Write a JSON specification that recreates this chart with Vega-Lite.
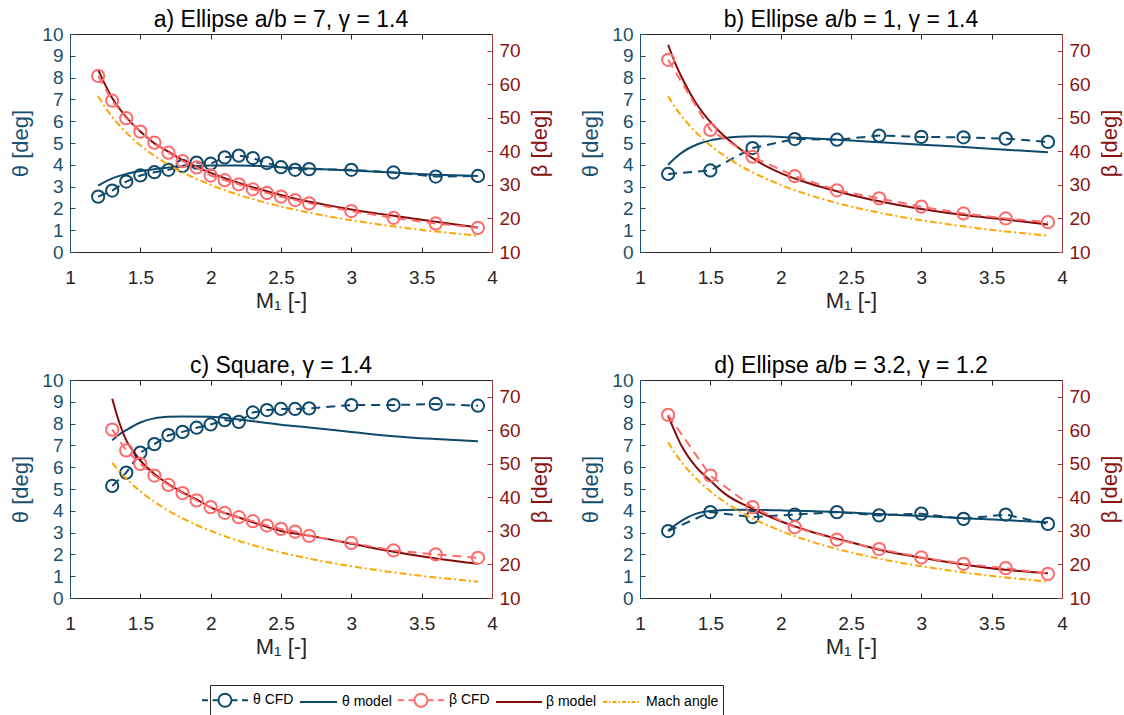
{
"$schema": "https://vega.github.io/schema/vega-lite/v6.json",
"autosize": {"type": "none"},
"padding": {"left": 70, "top": 34, "right": 1054, "bottom": 681},
"background": "white",
"config": {
 "font": "Liberation Sans",
 "view": {"stroke": "#262626", "strokeWidth": 1},
 "axis": {"grid": false, "labelFontSize": 19, "titleFontSize": 22, "titleFontWeight": "normal", "tickWidth": 1, "domainWidth": 1, "labelOverlap": false, "labelFlush": false},
 "title": {"fontSize": 23, "fontWeight": "normal", "color": "#000000", "offset": -7}
},
"data": {"values": [
{"p":"m","s":"Mach angle","M":1.2,"v":56.44},{"p":"m","s":"Mach angle","M":1.25,"v":53.13},{"p":"m","s":"Mach angle","M":1.3,"v":50.28},{"p":"m","s":"Mach angle","M":1.35,"v":47.8},{"p":"m","s":"Mach angle","M":1.4,"v":45.58},{"p":"m","s":"Mach angle","M":1.5,"v":41.81},{"p":"m","s":"Mach angle","M":1.6,"v":38.68},{"p":"m","s":"Mach angle","M":1.7,"v":36.03},{"p":"m","s":"Mach angle","M":1.8,"v":33.75},{"p":"m","s":"Mach angle","M":1.9,"v":31.76},{"p":"m","s":"Mach angle","M":2.0,"v":30.0},{"p":"m","s":"Mach angle","M":2.2,"v":27.04},{"p":"m","s":"Mach angle","M":2.4,"v":24.62},{"p":"m","s":"Mach angle","M":2.6,"v":22.62},{"p":"m","s":"Mach angle","M":2.8,"v":20.92},{"p":"m","s":"Mach angle","M":3.0,"v":19.47},{"p":"m","s":"Mach angle","M":3.2,"v":18.21},{"p":"m","s":"Mach angle","M":3.4,"v":17.1},{"p":"m","s":"Mach angle","M":3.6,"v":16.13},{"p":"m","s":"Mach angle","M":3.9,"v":14.86},

{"p":"a","s":"θ CFD","M":1.2,"v":2.54},{"p":"a","s":"θ CFD","M":1.3,"v":2.82},{"p":"a","s":"θ CFD","M":1.4,"v":3.23},{"p":"a","s":"θ CFD","M":1.5,"v":3.51},{"p":"a","s":"θ CFD","M":1.6,"v":3.66},{"p":"a","s":"θ CFD","M":1.7,"v":3.77},{"p":"a","s":"θ CFD","M":1.8,"v":3.95},{"p":"a","s":"θ CFD","M":1.9,"v":4.1},{"p":"a","s":"θ CFD","M":2.0,"v":4.05},{"p":"a","s":"θ CFD","M":2.1,"v":4.34},{"p":"a","s":"θ CFD","M":2.2,"v":4.42},{"p":"a","s":"θ CFD","M":2.3,"v":4.31},{"p":"a","s":"θ CFD","M":2.4,"v":4.08},{"p":"a","s":"θ CFD","M":2.5,"v":3.89},{"p":"a","s":"θ CFD","M":2.6,"v":3.77},{"p":"a","s":"θ CFD","M":2.7,"v":3.8},{"p":"a","s":"θ CFD","M":3.0,"v":3.77},{"p":"a","s":"θ CFD","M":3.3,"v":3.65},{"p":"a","s":"θ CFD","M":3.6,"v":3.46},{"p":"a","s":"θ CFD","M":3.9,"v":3.49},
{"p":"a","s":"θ model","M":1.2,"v":3.05},{"p":"a","s":"θ model","M":1.3,"v":3.38},{"p":"a","s":"θ model","M":1.4,"v":3.58},{"p":"a","s":"θ model","M":1.5,"v":3.72},{"p":"a","s":"θ model","M":1.6,"v":3.8},{"p":"a","s":"θ model","M":1.7,"v":3.88},{"p":"a","s":"θ model","M":1.8,"v":3.92},{"p":"a","s":"θ model","M":2.0,"v":3.97},{"p":"a","s":"θ model","M":2.2,"v":3.97},{"p":"a","s":"θ model","M":2.5,"v":3.89},{"p":"a","s":"θ model","M":2.8,"v":3.8},{"p":"a","s":"θ model","M":3.0,"v":3.74},{"p":"a","s":"θ model","M":3.3,"v":3.65},{"p":"a","s":"θ model","M":3.6,"v":3.54},{"p":"a","s":"θ model","M":3.9,"v":3.49},
{"p":"a","s":"β CFD","M":1.2,"v":62.5},{"p":"a","s":"β CFD","M":1.3,"v":55.1},{"p":"a","s":"β CFD","M":1.4,"v":49.9},{"p":"a","s":"β CFD","M":1.5,"v":45.9},{"p":"a","s":"β CFD","M":1.6,"v":42.6},{"p":"a","s":"β CFD","M":1.7,"v":39.6},{"p":"a","s":"β CFD","M":1.8,"v":37.1},{"p":"a","s":"β CFD","M":1.9,"v":35.2},{"p":"a","s":"β CFD","M":2.0,"v":32.8},{"p":"a","s":"β CFD","M":2.1,"v":31.4},{"p":"a","s":"β CFD","M":2.2,"v":30.2},{"p":"a","s":"β CFD","M":2.3,"v":28.7},{"p":"a","s":"β CFD","M":2.4,"v":27.6},{"p":"a","s":"β CFD","M":2.5,"v":26.5},{"p":"a","s":"β CFD","M":2.6,"v":25.5},{"p":"a","s":"β CFD","M":2.7,"v":24.5},{"p":"a","s":"β CFD","M":3.0,"v":22.2},{"p":"a","s":"β CFD","M":3.3,"v":20.2},{"p":"a","s":"β CFD","M":3.6,"v":18.5},{"p":"a","s":"β CFD","M":3.9,"v":17.2},
{"p":"a","s":"β model","M":1.2,"v":64.3},{"p":"a","s":"β model","M":1.3,"v":55.9},{"p":"a","s":"β model","M":1.4,"v":50.2},{"p":"a","s":"β model","M":1.5,"v":45.9},{"p":"a","s":"β model","M":1.6,"v":42.4},{"p":"a","s":"β model","M":1.7,"v":39.9},{"p":"a","s":"β model","M":1.8,"v":37.4},{"p":"a","s":"β model","M":1.9,"v":35.4},{"p":"a","s":"β model","M":2.0,"v":33.6},{"p":"a","s":"β model","M":2.2,"v":30.6},{"p":"a","s":"β model","M":2.4,"v":28.1},{"p":"a","s":"β model","M":2.6,"v":25.9},{"p":"a","s":"β model","M":2.8,"v":24.2},{"p":"a","s":"β model","M":3.0,"v":22.7},{"p":"a","s":"β model","M":3.3,"v":20.8},{"p":"a","s":"β model","M":3.6,"v":19.0},{"p":"a","s":"β model","M":3.9,"v":17.3},

{"p":"b","s":"θ CFD","M":1.2,"v":3.58},{"p":"b","s":"θ CFD","M":1.5,"v":3.74},{"p":"b","s":"θ CFD","M":1.8,"v":4.77},{"p":"b","s":"θ CFD","M":2.1,"v":5.18},{"p":"b","s":"θ CFD","M":2.4,"v":5.15},{"p":"b","s":"θ CFD","M":2.7,"v":5.34},{"p":"b","s":"θ CFD","M":3.0,"v":5.28},{"p":"b","s":"θ CFD","M":3.3,"v":5.26},{"p":"b","s":"θ CFD","M":3.6,"v":5.2},{"p":"b","s":"θ CFD","M":3.9,"v":5.05},
{"p":"b","s":"θ model","M":1.2,"v":4.0},{"p":"b","s":"θ model","M":1.25,"v":4.31},{"p":"b","s":"θ model","M":1.3,"v":4.57},{"p":"b","s":"θ model","M":1.4,"v":4.92},{"p":"b","s":"θ model","M":1.5,"v":5.12},{"p":"b","s":"θ model","M":1.6,"v":5.23},{"p":"b","s":"θ model","M":1.7,"v":5.29},{"p":"b","s":"θ model","M":1.8,"v":5.31},{"p":"b","s":"θ model","M":2.0,"v":5.28},{"p":"b","s":"θ model","M":2.2,"v":5.22},{"p":"b","s":"θ model","M":2.5,"v":5.11},{"p":"b","s":"θ model","M":2.8,"v":5.0},{"p":"b","s":"θ model","M":3.0,"v":4.92},{"p":"b","s":"θ model","M":3.3,"v":4.82},{"p":"b","s":"θ model","M":3.6,"v":4.69},{"p":"b","s":"θ model","M":3.9,"v":4.58},
{"p":"b","s":"β CFD","M":1.2,"v":67.3},{"p":"b","s":"β CFD","M":1.5,"v":46.4},{"p":"b","s":"β CFD","M":1.8,"v":38.4},{"p":"b","s":"β CFD","M":2.1,"v":32.6},{"p":"b","s":"β CFD","M":2.4,"v":28.4},{"p":"b","s":"β CFD","M":2.7,"v":26.0},{"p":"b","s":"β CFD","M":3.0,"v":23.5},{"p":"b","s":"β CFD","M":3.3,"v":21.5},{"p":"b","s":"β CFD","M":3.6,"v":20.0},{"p":"b","s":"β CFD","M":3.9,"v":18.9},
{"p":"b","s":"β model","M":1.2,"v":71.8},{"p":"b","s":"β model","M":1.25,"v":66.3},{"p":"b","s":"β model","M":1.3,"v":61.8},{"p":"b","s":"β model","M":1.35,"v":57.8},{"p":"b","s":"β model","M":1.4,"v":54.3},{"p":"b","s":"β model","M":1.5,"v":48.8},{"p":"b","s":"β model","M":1.6,"v":44.5},{"p":"b","s":"β model","M":1.7,"v":41.1},{"p":"b","s":"β model","M":1.8,"v":38.0},{"p":"b","s":"β model","M":1.9,"v":35.5},{"p":"b","s":"β model","M":2.0,"v":33.5},{"p":"b","s":"β model","M":2.2,"v":30.5},{"p":"b","s":"β model","M":2.4,"v":28.1},{"p":"b","s":"β model","M":2.6,"v":26.0},{"p":"b","s":"β model","M":2.8,"v":24.3},{"p":"b","s":"β model","M":3.0,"v":22.8},{"p":"b","s":"β model","M":3.3,"v":21.0},{"p":"b","s":"β model","M":3.6,"v":19.7},{"p":"b","s":"β model","M":3.9,"v":18.2},

{"p":"c","s":"θ CFD","M":1.3,"v":5.14},{"p":"c","s":"θ CFD","M":1.4,"v":5.75},{"p":"c","s":"θ CFD","M":1.5,"v":6.67},{"p":"c","s":"θ CFD","M":1.6,"v":7.06},{"p":"c","s":"θ CFD","M":1.7,"v":7.47},{"p":"c","s":"θ CFD","M":1.8,"v":7.62},{"p":"c","s":"θ CFD","M":1.9,"v":7.81},{"p":"c","s":"θ CFD","M":2.0,"v":7.96},{"p":"c","s":"θ CFD","M":2.1,"v":8.16},{"p":"c","s":"θ CFD","M":2.2,"v":8.08},{"p":"c","s":"θ CFD","M":2.3,"v":8.51},{"p":"c","s":"θ CFD","M":2.4,"v":8.62},{"p":"c","s":"θ CFD","M":2.5,"v":8.67},{"p":"c","s":"θ CFD","M":2.6,"v":8.67},{"p":"c","s":"θ CFD","M":2.7,"v":8.7},{"p":"c","s":"θ CFD","M":3.0,"v":8.85},{"p":"c","s":"θ CFD","M":3.3,"v":8.85},{"p":"c","s":"θ CFD","M":3.6,"v":8.9},{"p":"c","s":"θ CFD","M":3.9,"v":8.82},
{"p":"c","s":"θ model","M":1.3,"v":7.24},{"p":"c","s":"θ model","M":1.35,"v":7.5},{"p":"c","s":"θ model","M":1.4,"v":7.7},{"p":"c","s":"θ model","M":1.5,"v":8.05},{"p":"c","s":"θ model","M":1.6,"v":8.24},{"p":"c","s":"θ model","M":1.7,"v":8.31},{"p":"c","s":"θ model","M":1.8,"v":8.33},{"p":"c","s":"θ model","M":2.0,"v":8.31},{"p":"c","s":"θ model","M":2.2,"v":8.19},{"p":"c","s":"θ model","M":2.4,"v":8.03},{"p":"c","s":"θ model","M":2.5,"v":7.95},{"p":"c","s":"θ model","M":2.7,"v":7.82},{"p":"c","s":"θ model","M":3.0,"v":7.62},{"p":"c","s":"θ model","M":3.3,"v":7.42},{"p":"c","s":"θ model","M":3.6,"v":7.29},{"p":"c","s":"θ model","M":3.9,"v":7.19},
{"p":"c","s":"β CFD","M":1.3,"v":60.2},{"p":"c","s":"β CFD","M":1.4,"v":54.0},{"p":"c","s":"β CFD","M":1.5,"v":50.0},{"p":"c","s":"β CFD","M":1.6,"v":46.5},{"p":"c","s":"β CFD","M":1.7,"v":43.7},{"p":"c","s":"β CFD","M":1.8,"v":41.3},{"p":"c","s":"β CFD","M":1.9,"v":39.1},{"p":"c","s":"β CFD","M":2.0,"v":37.1},{"p":"c","s":"β CFD","M":2.1,"v":35.4},{"p":"c","s":"β CFD","M":2.2,"v":34.1},{"p":"c","s":"β CFD","M":2.3,"v":32.9},{"p":"c","s":"β CFD","M":2.4,"v":31.6},{"p":"c","s":"β CFD","M":2.5,"v":30.6},{"p":"c","s":"β CFD","M":2.6,"v":29.8},{"p":"c","s":"β CFD","M":2.7,"v":28.5},{"p":"c","s":"β CFD","M":3.0,"v":26.4},{"p":"c","s":"β CFD","M":3.3,"v":24.2},{"p":"c","s":"β CFD","M":3.6,"v":23.0},{"p":"c","s":"β CFD","M":3.9,"v":22.0},
{"p":"c","s":"β model","M":1.3,"v":69.4},{"p":"c","s":"β model","M":1.31,"v":68.0},{"p":"c","s":"β model","M":1.33,"v":65.0},{"p":"c","s":"β model","M":1.35,"v":62.4},{"p":"c","s":"β model","M":1.4,"v":57.0},{"p":"c","s":"β model","M":1.45,"v":53.8},{"p":"c","s":"β model","M":1.5,"v":51.0},{"p":"c","s":"β model","M":1.6,"v":47.0},{"p":"c","s":"β model","M":1.7,"v":44.0},{"p":"c","s":"β model","M":1.8,"v":41.5},{"p":"c","s":"β model","M":1.9,"v":39.4},{"p":"c","s":"β model","M":2.0,"v":37.0},{"p":"c","s":"β model","M":2.2,"v":34.0},{"p":"c","s":"β model","M":2.4,"v":31.2},{"p":"c","s":"β model","M":2.5,"v":30.0},{"p":"c","s":"β model","M":2.7,"v":28.6},{"p":"c","s":"β model","M":3.0,"v":26.2},{"p":"c","s":"β model","M":3.3,"v":23.8},{"p":"c","s":"β model","M":3.6,"v":21.8},{"p":"c","s":"β model","M":3.9,"v":20.2},

{"p":"d","s":"θ CFD","M":1.2,"v":3.07},{"p":"d","s":"θ CFD","M":1.5,"v":3.94},{"p":"d","s":"θ CFD","M":1.8,"v":3.71},{"p":"d","s":"θ CFD","M":2.1,"v":3.83},{"p":"d","s":"θ CFD","M":2.4,"v":3.94},{"p":"d","s":"θ CFD","M":2.7,"v":3.79},{"p":"d","s":"θ CFD","M":3.0,"v":3.87},{"p":"d","s":"θ CFD","M":3.3,"v":3.63},{"p":"d","s":"θ CFD","M":3.6,"v":3.83},{"p":"d","s":"θ CFD","M":3.9,"v":3.4},
{"p":"d","s":"θ model","M":1.2,"v":3.1},{"p":"d","s":"θ model","M":1.3,"v":3.56},{"p":"d","s":"θ model","M":1.4,"v":3.87},{"p":"d","s":"θ model","M":1.5,"v":3.99},{"p":"d","s":"θ model","M":1.7,"v":4.05},{"p":"d","s":"θ model","M":2.0,"v":4.02},{"p":"d","s":"θ model","M":2.4,"v":3.95},{"p":"d","s":"θ model","M":2.7,"v":3.85},{"p":"d","s":"θ model","M":3.0,"v":3.76},{"p":"d","s":"θ model","M":3.3,"v":3.66},{"p":"d","s":"θ model","M":3.6,"v":3.57},{"p":"d","s":"θ model","M":3.9,"v":3.48},
{"p":"d","s":"β CFD","M":1.2,"v":64.6},{"p":"d","s":"β CFD","M":1.5,"v":46.5},{"p":"d","s":"β CFD","M":1.8,"v":37.1},{"p":"d","s":"β CFD","M":2.1,"v":31.1},{"p":"d","s":"β CFD","M":2.4,"v":27.4},{"p":"d","s":"β CFD","M":2.7,"v":24.6},{"p":"d","s":"β CFD","M":3.0,"v":22.1},{"p":"d","s":"β CFD","M":3.3,"v":20.2},{"p":"d","s":"β CFD","M":3.6,"v":18.9},{"p":"d","s":"β CFD","M":3.9,"v":17.2},
{"p":"d","s":"β model","M":1.2,"v":64.4},{"p":"d","s":"β model","M":1.3,"v":55.0},{"p":"d","s":"β model","M":1.4,"v":49.0},{"p":"d","s":"β model","M":1.5,"v":45.0},{"p":"d","s":"β model","M":1.6,"v":41.2},{"p":"d","s":"β model","M":1.8,"v":36.6},{"p":"d","s":"β model","M":2.0,"v":32.9},{"p":"d","s":"β model","M":2.2,"v":30.0},{"p":"d","s":"β model","M":2.5,"v":26.6},{"p":"d","s":"β model","M":2.7,"v":24.4},{"p":"d","s":"β model","M":3.0,"v":22.0},{"p":"d","s":"β model","M":3.3,"v":20.0},{"p":"d","s":"β model","M":3.6,"v":18.4},{"p":"d","s":"β model","M":3.9,"v":17.4}
]},
"columns": 2,
"spacing": {"row": 128, "column": 148},
"bounds": "flush",
"concat": [
 {"title": "a) Ellipse a/b = 7, γ = 1.4", "width": 422, "height": 218,
  "resolve": {"scale": {"y": "independent"}, "axis": {"x": "independent"}},
  "layer": [
   {"encoding": {
     "x": {"field": "M", "type": "quantitative", "scale": {"domain": [1, 4], "nice": false, "zero": false}, "axis": {"orient": "bottom", "values": [1, 1.5, 2, 2.5, 3, 3.5, 4], "format": "~g", "title": "M₁ [-]", "tickSize": -5, "labelPadding": 21, "titlePadding": 3, "domainColor": "#262626", "tickColor": "#262626", "labelColor": "#262626", "titleColor": "#262626"}},
     "y": {"field": "v", "type": "quantitative", "scale": {"domain": [0, 10], "nice": false, "zero": false}, "axis": {"orient": "left", "values": [0,1,2,3,4,5,6,7,8,9,10], "title": "θ [deg]", "tickSize": -5, "labelPadding": 12, "titlePadding": 9, "domainColor": "#18506f", "tickColor": "#18506f", "labelColor": "#18506f", "titleColor": "#18506f"}}},
    "layer": [
     {"transform": [{"filter": "datum.p=='a' && datum.s=='θ model'"}], "mark": {"type": "line", "color": "#0e4a6b", "strokeWidth": 2, "interpolate": "monotone"}, "encoding": {}},
     {"transform": [{"filter": "datum.p=='a' && datum.s=='θ CFD'"}], "mark": {"type": "line", "color": "#0e4a6b", "strokeWidth": 2, "strokeDash": [9, 6]}, "encoding": {}},
     {"transform": [{"filter": "datum.p=='a' && datum.s=='θ CFD'"}], "mark": {"type": "point", "shape": "circle", "filled": false, "size": 150, "strokeWidth": 2, "opacity": 1, "color": "#0e4a6b"}},
     {"transform": [{"filter": "datum.p=='legend-only'"}], "mark": {"type": "point", "filled": false, "strokeWidth": 2, "opacity": 1},
      "encoding": {
       "color": {"field": "s", "type": "nominal",
        "scale": {"domain": ["θ CFD", "θ model", "β CFD", "β model", "Mach angle"], "range": ["#0e4a6b", "#0e4a6b", "#ff6b6b", "#850c0c", "#ffa500"]},
        "legend": {"title": null, "orient": "none", "legendX": 140, "legendY": 651, "direction": "horizontal", "symbolSize": 400, "symbolStrokeWidth": 2, "labelFontSize": 14, "labelColor": "#000000", "labelOffset": 17, "columnPadding": 2, "padding": 4, "strokeColor": "#262626", "fillColor": "#ffffff", "labelLimit": 300,
          "encode": {"legend": {"update": {"stroke": {"value": "#262626"}, "strokeWidth": {"value": 1}}}}}},
       "shape": {"field": "s", "type": "nominal",
        "scale": {"domain": ["θ CFD", "θ model", "β CFD", "β model", "Mach angle"], "range": ["M-2.3,0H-1.7M-1.25,0H-0.65M0.65,0H1.25M1.7,0H2.3M-0.65,0A0.65,0.65 0 1 0 0.65,0A0.65,0.65 0 1 0 -0.65,0", "M-1.4,0H2.3", "M-2.3,0H-1.7M-1.25,0H-0.65M0.65,0H1.25M1.7,0H2.3M-0.65,0A0.65,0.65 0 1 0 0.65,0A0.65,0.65 0 1 0 -0.65,0", "M-2.2,0H2.4", "M-1.5,0H-1.1M-0.9,0H-0.75M-0.55,0H-0.15M0.05,0H0.2M0.4,0H0.8M1.0,0H1.15M1.35,0H1.75M1.95,0H2.1"]},
        "legend": {"title": null, "orient": "none", "legendX": 140, "legendY": 651, "direction": "horizontal", "symbolSize": 400, "symbolStrokeWidth": 2, "labelFontSize": 14, "labelColor": "#000000", "labelOffset": 17, "columnPadding": 2, "padding": 4, "strokeColor": "#262626", "fillColor": "#ffffff", "labelLimit": 300,
          "encode": {"legend": {"update": {"stroke": {"value": "#262626"}, "strokeWidth": {"value": 1}}}}}}
      }}
    ]},
   {"encoding": {
     "x": {"field": "M", "type": "quantitative", "axis": {"orient": "top", "values": [1, 1.5, 2, 2.5, 3, 3.5, 4], "labels": false, "title": null, "tickSize": -5, "domainColor": "#262626", "tickColor": "#262626"}},
     "y": {"field": "v", "type": "quantitative", "scale": {"domain": [10, 75], "nice": false, "zero": false}, "axis": {"orient": "right", "values": [10,20,30,40,50,60,70], "title": "β [deg]", "tickSize": -5, "labelPadding": 12, "titlePadding": 9, "titleAngle": 270, "titleBaseline": "top", "domainColor": "#a03a3a", "tickColor": "#a03a3a", "labelColor": "#8b1212", "titleColor": "#8b1212"}}},
    "layer": [
     {"transform": [{"filter": "datum.p=='m'"}], "mark": {"type": "line", "color": "#ffa500", "strokeWidth": 2, "strokeDash": [7, 3, 2, 3], "interpolate": "monotone"}, "encoding": {}},
     {"transform": [{"filter": "datum.p=='a' && datum.s=='β model'"}], "mark": {"type": "line", "color": "#850c0c", "strokeWidth": 2, "interpolate": "monotone"}, "encoding": {}},
     {"transform": [{"filter": "datum.p=='a' && datum.s=='β CFD'"}], "mark": {"type": "line", "color": "#ff6b6b", "strokeWidth": 2, "strokeDash": [9, 6]}, "encoding": {}},
     {"transform": [{"filter": "datum.p=='a' && datum.s=='β CFD'"}], "mark": {"type": "point", "shape": "circle", "filled": false, "size": 150, "strokeWidth": 2, "opacity": 1, "color": "#ff6b6b"}}
    ]}
  ]},
 {"title": "b) Ellipse a/b = 1, γ = 1.4", "width": 422, "height": 218,
  "resolve": {"scale": {"y": "independent"}, "axis": {"x": "independent"}},
  "layer": [
   {"encoding": {
     "x": {"field": "M", "type": "quantitative", "scale": {"domain": [1, 4], "nice": false, "zero": false}, "axis": {"orient": "bottom", "values": [1, 1.5, 2, 2.5, 3, 3.5, 4], "format": "~g", "title": "M₁ [-]", "tickSize": -5, "labelPadding": 21, "titlePadding": 3, "domainColor": "#262626", "tickColor": "#262626", "labelColor": "#262626", "titleColor": "#262626"}},
     "y": {"field": "v", "type": "quantitative", "scale": {"domain": [0, 10], "nice": false, "zero": false}, "axis": {"orient": "left", "values": [0,1,2,3,4,5,6,7,8,9,10], "title": "θ [deg]", "tickSize": -5, "labelPadding": 12, "titlePadding": 9, "domainColor": "#18506f", "tickColor": "#18506f", "labelColor": "#18506f", "titleColor": "#18506f"}}},
    "layer": [
     {"transform": [{"filter": "datum.p=='b' && datum.s=='θ model'"}], "mark": {"type": "line", "color": "#0e4a6b", "strokeWidth": 2, "interpolate": "monotone"}, "encoding": {}},
     {"transform": [{"filter": "datum.p=='b' && datum.s=='θ CFD'"}], "mark": {"type": "line", "color": "#0e4a6b", "strokeWidth": 2, "strokeDash": [9, 6]}, "encoding": {}},
     {"transform": [{"filter": "datum.p=='b' && datum.s=='θ CFD'"}], "mark": {"type": "point", "shape": "circle", "filled": false, "size": 150, "strokeWidth": 2, "opacity": 1, "color": "#0e4a6b"}}
    ]},
   {"encoding": {
     "x": {"field": "M", "type": "quantitative", "axis": {"orient": "top", "values": [1, 1.5, 2, 2.5, 3, 3.5, 4], "labels": false, "title": null, "tickSize": -5, "domainColor": "#262626", "tickColor": "#262626"}},
     "y": {"field": "v", "type": "quantitative", "scale": {"domain": [10, 75], "nice": false, "zero": false}, "axis": {"orient": "right", "values": [10,20,30,40,50,60,70], "title": "β [deg]", "tickSize": -5, "labelPadding": 12, "titlePadding": 9, "titleAngle": 270, "titleBaseline": "top", "domainColor": "#a03a3a", "tickColor": "#a03a3a", "labelColor": "#8b1212", "titleColor": "#8b1212"}}},
    "layer": [
     {"transform": [{"filter": "datum.p=='m'"}], "mark": {"type": "line", "color": "#ffa500", "strokeWidth": 2, "strokeDash": [7, 3, 2, 3], "interpolate": "monotone"}, "encoding": {}},
     {"transform": [{"filter": "datum.p=='b' && datum.s=='β model'"}], "mark": {"type": "line", "color": "#850c0c", "strokeWidth": 2, "interpolate": "monotone"}, "encoding": {}},
     {"transform": [{"filter": "datum.p=='b' && datum.s=='β CFD'"}], "mark": {"type": "line", "color": "#ff6b6b", "strokeWidth": 2, "strokeDash": [9, 6]}, "encoding": {}},
     {"transform": [{"filter": "datum.p=='b' && datum.s=='β CFD'"}], "mark": {"type": "point", "shape": "circle", "filled": false, "size": 150, "strokeWidth": 2, "opacity": 1, "color": "#ff6b6b"}}
    ]}
  ]},
 {"title": "c) Square, γ = 1.4", "width": 422, "height": 218,
  "resolve": {"scale": {"y": "independent"}, "axis": {"x": "independent"}},
  "layer": [
   {"encoding": {
     "x": {"field": "M", "type": "quantitative", "scale": {"domain": [1, 4], "nice": false, "zero": false}, "axis": {"orient": "bottom", "values": [1, 1.5, 2, 2.5, 3, 3.5, 4], "format": "~g", "title": "M₁ [-]", "tickSize": -5, "labelPadding": 21, "titlePadding": 3, "domainColor": "#262626", "tickColor": "#262626", "labelColor": "#262626", "titleColor": "#262626"}},
     "y": {"field": "v", "type": "quantitative", "scale": {"domain": [0, 10], "nice": false, "zero": false}, "axis": {"orient": "left", "values": [0,1,2,3,4,5,6,7,8,9,10], "title": "θ [deg]", "tickSize": -5, "labelPadding": 12, "titlePadding": 9, "domainColor": "#18506f", "tickColor": "#18506f", "labelColor": "#18506f", "titleColor": "#18506f"}}},
    "layer": [
     {"transform": [{"filter": "datum.p=='c' && datum.s=='θ model'"}], "mark": {"type": "line", "color": "#0e4a6b", "strokeWidth": 2, "interpolate": "monotone"}, "encoding": {}},
     {"transform": [{"filter": "datum.p=='c' && datum.s=='θ CFD'"}], "mark": {"type": "line", "color": "#0e4a6b", "strokeWidth": 2, "strokeDash": [9, 6]}, "encoding": {}},
     {"transform": [{"filter": "datum.p=='c' && datum.s=='θ CFD'"}], "mark": {"type": "point", "shape": "circle", "filled": false, "size": 150, "strokeWidth": 2, "opacity": 1, "color": "#0e4a6b"}}
    ]},
   {"encoding": {
     "x": {"field": "M", "type": "quantitative", "axis": {"orient": "top", "values": [1, 1.5, 2, 2.5, 3, 3.5, 4], "labels": false, "title": null, "tickSize": -5, "domainColor": "#262626", "tickColor": "#262626"}},
     "y": {"field": "v", "type": "quantitative", "scale": {"domain": [10, 75], "nice": false, "zero": false}, "axis": {"orient": "right", "values": [10,20,30,40,50,60,70], "title": "β [deg]", "tickSize": -5, "labelPadding": 12, "titlePadding": 9, "titleAngle": 270, "titleBaseline": "top", "domainColor": "#a03a3a", "tickColor": "#a03a3a", "labelColor": "#8b1212", "titleColor": "#8b1212"}}},
    "layer": [
     {"transform": [{"filter": "datum.p=='m' && datum.M>=1.3"}], "mark": {"type": "line", "color": "#ffa500", "strokeWidth": 2, "strokeDash": [7, 3, 2, 3], "interpolate": "monotone"}, "encoding": {}},
     {"transform": [{"filter": "datum.p=='c' && datum.s=='β model'"}], "mark": {"type": "line", "color": "#850c0c", "strokeWidth": 2, "interpolate": "monotone"}, "encoding": {}},
     {"transform": [{"filter": "datum.p=='c' && datum.s=='β CFD'"}], "mark": {"type": "line", "color": "#ff6b6b", "strokeWidth": 2, "strokeDash": [9, 6]}, "encoding": {}},
     {"transform": [{"filter": "datum.p=='c' && datum.s=='β CFD'"}], "mark": {"type": "point", "shape": "circle", "filled": false, "size": 150, "strokeWidth": 2, "opacity": 1, "color": "#ff6b6b"}}
    ]}
  ]},
 {"title": "d) Ellipse a/b = 3.2, γ = 1.2", "width": 422, "height": 218,
  "resolve": {"scale": {"y": "independent"}, "axis": {"x": "independent"}},
  "layer": [
   {"encoding": {
     "x": {"field": "M", "type": "quantitative", "scale": {"domain": [1, 4], "nice": false, "zero": false}, "axis": {"orient": "bottom", "values": [1, 1.5, 2, 2.5, 3, 3.5, 4], "format": "~g", "title": "M₁ [-]", "tickSize": -5, "labelPadding": 21, "titlePadding": 3, "domainColor": "#262626", "tickColor": "#262626", "labelColor": "#262626", "titleColor": "#262626"}},
     "y": {"field": "v", "type": "quantitative", "scale": {"domain": [0, 10], "nice": false, "zero": false}, "axis": {"orient": "left", "values": [0,1,2,3,4,5,6,7,8,9,10], "title": "θ [deg]", "tickSize": -5, "labelPadding": 12, "titlePadding": 9, "domainColor": "#18506f", "tickColor": "#18506f", "labelColor": "#18506f", "titleColor": "#18506f"}}},
    "layer": [
     {"transform": [{"filter": "datum.p=='d' && datum.s=='θ model'"}], "mark": {"type": "line", "color": "#0e4a6b", "strokeWidth": 2, "interpolate": "monotone"}, "encoding": {}},
     {"transform": [{"filter": "datum.p=='d' && datum.s=='θ CFD'"}], "mark": {"type": "line", "color": "#0e4a6b", "strokeWidth": 2, "strokeDash": [9, 6]}, "encoding": {}},
     {"transform": [{"filter": "datum.p=='d' && datum.s=='θ CFD'"}], "mark": {"type": "point", "shape": "circle", "filled": false, "size": 150, "strokeWidth": 2, "opacity": 1, "color": "#0e4a6b"}}
    ]},
   {"encoding": {
     "x": {"field": "M", "type": "quantitative", "axis": {"orient": "top", "values": [1, 1.5, 2, 2.5, 3, 3.5, 4], "labels": false, "title": null, "tickSize": -5, "domainColor": "#262626", "tickColor": "#262626"}},
     "y": {"field": "v", "type": "quantitative", "scale": {"domain": [10, 75], "nice": false, "zero": false}, "axis": {"orient": "right", "values": [10,20,30,40,50,60,70], "title": "β [deg]", "tickSize": -5, "labelPadding": 12, "titlePadding": 9, "titleAngle": 270, "titleBaseline": "top", "domainColor": "#a03a3a", "tickColor": "#a03a3a", "labelColor": "#8b1212", "titleColor": "#8b1212"}}},
    "layer": [
     {"transform": [{"filter": "datum.p=='m'"}], "mark": {"type": "line", "color": "#ffa500", "strokeWidth": 2, "strokeDash": [7, 3, 2, 3], "interpolate": "monotone"}, "encoding": {}},
     {"transform": [{"filter": "datum.p=='d' && datum.s=='β model'"}], "mark": {"type": "line", "color": "#850c0c", "strokeWidth": 2, "interpolate": "monotone"}, "encoding": {}},
     {"transform": [{"filter": "datum.p=='d' && datum.s=='β CFD'"}], "mark": {"type": "line", "color": "#ff6b6b", "strokeWidth": 2, "strokeDash": [9, 6]}, "encoding": {}},
     {"transform": [{"filter": "datum.p=='d' && datum.s=='β CFD'"}], "mark": {"type": "point", "shape": "circle", "filled": false, "size": 150, "strokeWidth": 2, "opacity": 1, "color": "#ff6b6b"}}
    ]}
  ]}
]
}
